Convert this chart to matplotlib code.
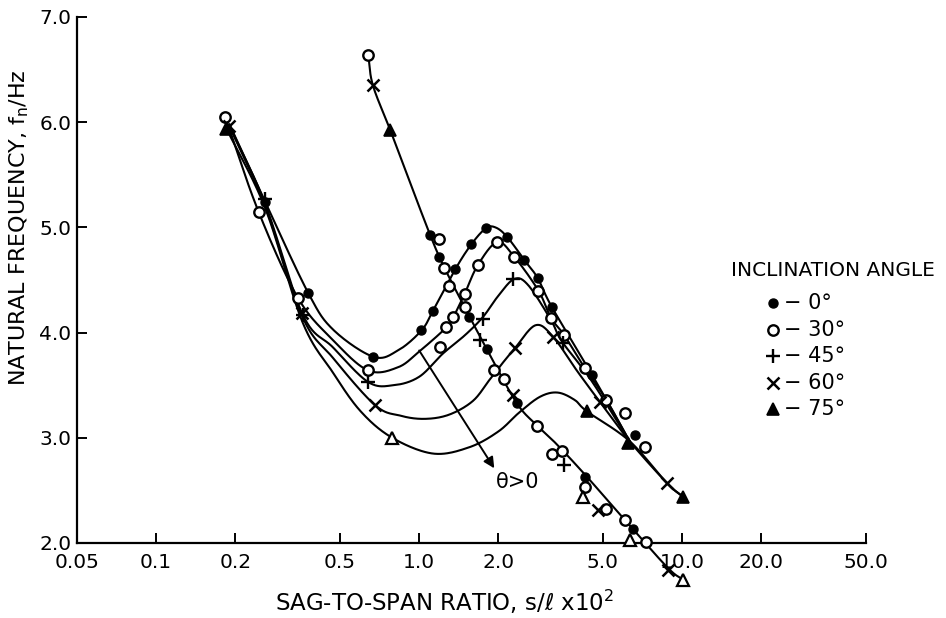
import numpy as np
import matplotlib
matplotlib.use("Agg")
import matplotlib.pyplot as plt
from matplotlib.lines import Line2D
from matplotlib.ticker import FixedLocator, FixedFormatter, NullLocator

plt.rcParams['font.family'] = ['DejaVu Sans']
plt.rcParams['mathtext.fontset'] = 'dejavusans'

W, H = 946, 618

# ---- axis ticks -------------------------------------------------------
x_ticks = [0.05, 0.1, 0.2, 0.5, 1.0, 2.0, 5.0, 10.0, 20.0, 50.0]
x_tick_labels = ["0.05", "0.1", "0.2", "0.5", "1.0", "2.0", "5.0", "10.0", "20.0", "50.0"]
y_ticks = [2.0, 3.0, 4.0, 5.0, 6.0, 7.0]
y_tick_labels = ["2.0", "3.0", "4.0", "5.0", "6.0", "7.0"]

angle_labels = ["0°", "30°", "45°", "60°", "75°"]

# ---- faired curves: sag-to-span ratio (x10^2) -> natural frequency (Hz) ----
curve_00_s = [0.19, 0.26, 0.378, 0.47, 0.67, 0.83, 1.02, 1.13, 1.37, 1.58, 1.79, 1.95, 2.16, 2.51, 2.82, 3.2, 4.54, 6.3]
curve_00_f = [5.98, 5.24, 4.38, 4.03, 3.77, 3.83, 4.02, 4.21, 4.60, 4.84, 4.99, 5.00, 4.91, 4.69, 4.52, 4.24, 3.60, 2.97]

curve_30_s = [0.183, 0.245, 0.346, 0.47, 0.64, 0.83, 1.0, 1.27, 1.35, 1.49, 1.67, 1.98, 2.3, 2.84, 3.17, 3.55, 4.27, 5.15, 6.3]
curve_30_f = [6.05, 5.15, 4.33, 3.93, 3.64, 3.67, 3.82, 4.05, 4.15, 4.37, 4.64, 4.86, 4.72, 4.40, 4.14, 3.98, 3.66, 3.36, 2.97]

curve_45_s = [0.19, 0.26, 0.361, 0.47, 0.64, 0.80, 1.0, 1.23, 1.5, 1.75, 2.0, 2.3, 2.6, 3.17, 3.48, 4.5, 6.3]
curve_45_f = [5.97, 5.22, 4.17, 3.86, 3.53, 3.50, 3.58, 3.80, 3.98, 4.15, 4.35, 4.51, 4.45, 4.12, 3.92, 3.55, 2.97]

curve_60_s = [0.19, 0.26, 0.36, 0.47, 0.68, 0.85, 1.05, 1.3, 1.6, 1.85, 2.09, 2.31, 2.77, 3.23, 4.0, 4.87, 6.3, 8.75, 10.07]
curve_60_f = [5.96, 5.20, 4.15, 3.76, 3.31, 3.21, 3.18, 3.22, 3.35, 3.55, 3.72, 3.85, 4.07, 3.96, 3.63, 3.34, 2.97, 2.57, 2.44]

curve_75_s = [0.185, 0.26, 0.36, 0.47, 0.6, 0.79, 1.13, 1.55, 2.0, 2.4, 2.88, 3.36, 3.9, 4.35, 6.3, 8.75, 10.07]
curve_75_f = [5.94, 5.18, 4.10, 3.62, 3.25, 3.00, 2.85, 2.91, 3.06, 3.24, 3.39, 3.43, 3.36, 3.25, 2.97, 2.57, 2.44]

# second (steep) branch, common to all inclinations
curve_b_s = [0.64, 0.667, 0.775, 0.9, 1.10, 1.24, 1.49, 1.81, 2.35, 2.8, 3.3, 4.27, 6.3, 8.85, 10.1]
curve_b_f = [6.64, 6.35, 5.93, 5.50, 4.93, 4.63, 4.24, 3.84, 3.33, 3.12, 2.95, 2.65, 2.17, 1.76, 1.65]

# ---- measured points ---------------------------------------------------
pts_00_s = [0.26, 0.378, 0.67, 1.02, 1.13, 1.37, 1.58, 1.79, 2.16, 2.51, 2.82, 3.2, 4.54, 6.6,
            1.10, 1.19, 1.55, 1.81, 2.35, 4.27, 6.5]
pts_00_f = [5.24, 4.38, 3.77, 4.02, 4.21, 4.60, 4.84, 4.99, 4.91, 4.69, 4.52, 4.24, 3.60, 3.03,
            4.93, 4.72, 4.15, 3.84, 3.33, 2.63, 2.13]

pts_30_s = [0.183, 0.245, 0.346, 0.64, 1.20, 1.27, 1.35, 1.49, 1.67, 1.98, 2.3, 2.84, 3.17, 3.55,
            4.27, 5.15, 6.06, 7.22,
            0.64, 1.19, 1.24, 1.30, 1.49, 1.93, 2.11, 2.8, 3.2, 3.5, 4.27, 5.15, 6.06, 7.3]
pts_30_f = [6.05, 5.15, 4.33, 3.64, 3.86, 4.05, 4.15, 4.37, 4.64, 4.86, 4.72, 4.40, 4.14, 3.98,
            3.66, 3.36, 3.24, 2.91,
            6.64, 4.89, 4.61, 4.44, 4.24, 3.64, 3.56, 3.11, 2.85, 2.87, 2.53, 2.32, 2.22, 2.01]

pts_45_s = [0.26, 0.361, 0.64, 1.75, 2.28, 3.52, 1.70, 3.55]
pts_45_f = [5.27, 4.17, 3.53, 4.13, 4.51, 3.90, 3.93, 2.74]

pts_60_s = [0.19, 0.36, 0.68, 2.31, 3.23, 4.87, 8.75, 0.667, 2.28, 4.79, 8.85]
pts_60_f = [5.96, 4.19, 3.31, 3.85, 3.96, 3.34, 2.57, 6.35, 3.41, 2.31, 1.74]

pts_75_filled_s = [0.185, 4.35, 6.25, 10.07, 0.775]
pts_75_filled_f = [5.94, 3.25, 2.95, 2.44, 5.93]
pts_75_open_s = [0.79, 4.2, 6.33, 10.1]
pts_75_open_f = [3.00, 2.44, 2.03, 1.65]

# arrow showing the trend with increasing inclination
arrow_from = (1.0, 3.83)
arrow_to = (1.93, 2.71)


def smooth(s, f, n=24):
    """Catmull-Rom path through the points, in log(s) / f drawing space."""
    u = np.log10(np.asarray(s, float)) * 2.5
    v = np.asarray(f, float)
    P = np.column_stack([u, v])
    P = np.vstack([2 * P[0] - P[1], P, 2 * P[-1] - P[-2]])
    out = []
    t = np.linspace(0, 1, n, endpoint=False)[:, None]
    for i in range(1, len(P) - 2):
        p0, p1, p2, p3 = P[i - 1], P[i], P[i + 1], P[i + 2]
        seg = 0.5 * ((2 * p1) + (-p0 + p2) * t + (2 * p0 - 5 * p1 + 4 * p2 - p3) * t ** 2
                     + (-p0 + 3 * p1 - 3 * p2 + p3) * t ** 3)
        out.append(seg)
    out.append(P[-2][None, :])
    out = np.vstack(out)
    return 10 ** (out[:, 0] / 2.5), out[:, 1]


fig = plt.figure(figsize=(W / 100, H / 100), dpi=100)
ax = fig.add_axes([77 / W, (H - 543) / H, (866 - 77) / W, (543 - 17) / H])
ax.set_xscale('log')
ax.set_xlim(0.05, 50)
ax.set_ylim(2.0, 7.0)

for sp in ['top', 'right']:
    ax.spines[sp].set_visible(False)
for sp in ['left', 'bottom']:
    ax.spines[sp].set_linewidth(1.6)

ax.xaxis.set_major_locator(FixedLocator(x_ticks))
ax.xaxis.set_major_formatter(FixedFormatter(x_tick_labels))
ax.xaxis.set_minor_locator(NullLocator())
ax.yaxis.set_major_locator(FixedLocator(y_ticks))
ax.yaxis.set_major_formatter(FixedFormatter(y_tick_labels))
ax.tick_params(axis='both', direction='in', length=7, width=1.4, labelsize=14.5, colors='black')
ax.tick_params(axis='x', pad=7)
ax.tick_params(axis='y', pad=4)

line_kw = dict(color='black', lw=1.5, clip_on=False, zorder=2)
for cs, cf in [(curve_00_s, curve_00_f), (curve_30_s, curve_30_f), (curve_45_s, curve_45_f),
               (curve_60_s, curve_60_f), (curve_75_s, curve_75_f), (curve_b_s, curve_b_f)]:
    xs, ys = smooth(cs, cf)
    ax.plot(xs, ys, **line_kw)

sty_00 = dict(marker='o', ms=6.5, mfc='black', mec='black', mew=1.0)
sty_30 = dict(marker='o', ms=7.5, mfc='white', mec='black', mew=1.7)
sty_45 = dict(marker='+', ms=10, mec='black', mew=1.7)
sty_60 = dict(marker='x', ms=8, mec='black', mew=1.8)
sty_75f = dict(marker='^', ms=8.5, mfc='black', mec='black', mew=1.2)
sty_75o = dict(marker='^', ms=8.5, mfc='white', mec='black', mew=1.6)

for ps, pf, sty in [(pts_00_s, pts_00_f, sty_00), (pts_30_s, pts_30_f, sty_30),
                    (pts_45_s, pts_45_f, sty_45), (pts_60_s, pts_60_f, sty_60),
                    (pts_75_filled_s, pts_75_filled_f, sty_75f),
                    (pts_75_open_s, pts_75_open_f, sty_75o)]:
    ax.plot(ps, pf, ls='none', clip_on=False, zorder=3, **sty)

ax.annotate('', xy=arrow_to, xytext=arrow_from,
            arrowprops=dict(arrowstyle='-|>', color='black', lw=1.4, mutation_scale=16,
                            shrinkA=0, shrinkB=0))
ax.text(2.36, 2.58, 'θ>0', fontsize=15, ha='center', va='center')

# axis titles
fig.text(19 / W, 1 - 228 / H, 'NATURAL FREQUENCY, f$_\\mathregular{n}$/Hz', rotation=90,
         fontsize=16, ha='center', va='center')
fig.text(445 / W, 1 - 602 / H, 'SAG-TO-SPAN RATIO, s/$\\ell$ x10$^\\mathregular{2}$',
         fontsize=16.5, ha='center', va='center')

# key
fig.text(833 / W, 1 - 270 / H, 'INCLINATION ANGLE', fontsize=14.5, ha='center', va='center')
key_styles = [sty_00, sty_30, sty_45, sty_60, sty_75f]
key_y = [303, 330, 356, 383, 409]
for lab, sty, yy in zip(angle_labels, key_styles, key_y):
    fig.add_artist(Line2D([773 / W], [1 - yy / H], transform=fig.transFigure, ls='none', **sty))
    fig.text(784 / W, 1 - yy / H, '− ' + lab, fontsize=15, ha='left', va='center')

fig.savefig('out.png', dpi=100)
